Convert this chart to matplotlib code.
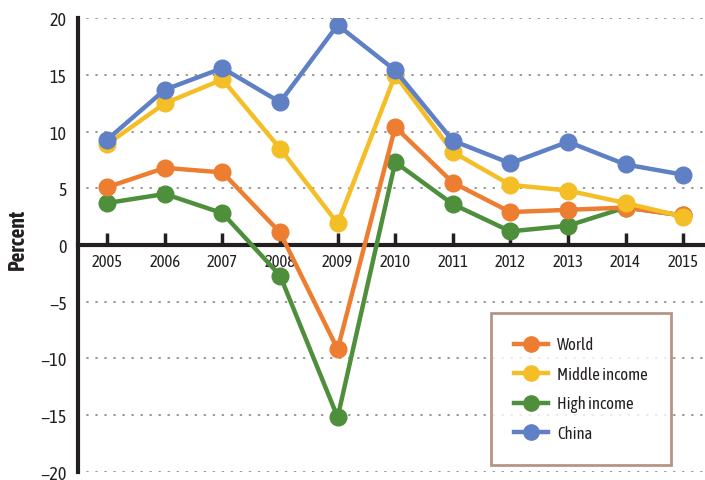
import matplotlib.pyplot as plt
from matplotlib import font_manager
from matplotlib.lines import Line2D

# condensed face close to the original, if installed
names = {f.name for f in font_manager.fontManager.ttflist}
family = next((n for n in ['Asap Condensed', 'Archivo Narrow'] if n in names), 'DejaVu Sans')
plt.rcParams['font.family'] = [family, 'DejaVu Sans']

years = [2005, 2006, 2007, 2008, 2009, 2010, 2011, 2012, 2013, 2014, 2015]

world = [5.1, 6.8, 6.4, 1.1, -9.2, 10.4, 5.5, 2.9, 3.1, 3.3, 2.6]
middle_income = [8.9, 12.5, 14.6, 8.5, 1.9, 15.0, 8.2, 5.3, 4.8, 3.7, 2.5]
high_income = [3.7, 4.5, 2.8, -2.7, -15.2, 7.3, 3.6, 1.2, 1.7, 3.3, 2.6]
china = [9.3, 13.7, 15.6, 12.6, 19.4, 15.4, 9.2, 7.2, 9.1, 7.1, 6.2]

series = [
    ('World', world, '#ED7D31'),
    ('Middle income', middle_income, '#F4BE26'),
    ('High income', high_income, '#4E8F3B'),
    ('China', china, '#5F80C5'),
]

fig = plt.figure(figsize=(7.05, 4.81), dpi=100)
ax = fig.add_axes([0.1106, 0.0173, 0.8894, 0.9427])

for y in [20, 15, 10, 5, -5, -10, -15, -20]:
    ax.axhline(y, color='#8a8a8a', lw=1.3, ls=(0, (0.5, 4.5)), dash_capstyle='round', zorder=0)

# plot order: high income under, china on top
for name, vals, col in [series[2], series[0], series[1], series[3]]:
    ax.plot(years, vals, color=col, lw=3.2, marker='o', ms=12, zorder=3)

ax.set_xlim(2004.49, 2015.38)
ax.set_ylim(-20, 20)

ax.spines['top'].set_visible(False)
ax.spines['right'].set_visible(False)
ax.spines['bottom'].set_position(('data', 0))
ax.spines['bottom'].set_linewidth(3)
ax.spines['left'].set_linewidth(3)
ax.spines['bottom'].set_color('#231f20')
ax.spines['left'].set_color('#231f20')

ax.set_xticks(years)
ax.set_xticklabels([str(y) for y in years], fontsize=12, color='#231f20')
ax.tick_params(axis='x', direction='in', length=9, width=2.5, color='#231f20', pad=6)

ax.set_yticks([20, 15, 10, 5, 0, -5, -10, -15, -20])
ax.set_yticklabels(['20', '15', '10', '5', '0', '\u22125', '\u221210', '\u221215', '\u221220'],
                   fontsize=13, color='#231f20')
ax.tick_params(axis='y', length=0, pad=8)

fig.text(0.026, 0.503, 'Percent', rotation=90, fontsize=15.5, fontweight='bold',
         ha='center', va='center', color='#231f20')

handles = [Line2D([0], [0], color=c, lw=3.2, marker='o', ms=11) for _, _, c in series]
leg = fig.legend(handles, [n for n, _, _ in series], loc='upper left',
                 bbox_to_anchor=(491 / 705, 1 - 314 / 481), frameon=True, fancybox=False,
                 fontsize=12, handlelength=2.0, labelspacing=0.75, borderpad=1.4,
                 handletextpad=0.55, borderaxespad=0)
leg.get_frame().set_edgecolor('#a47a6a')
leg.get_frame().set_linewidth(2)
for t in leg.get_texts():
    t.set_color('#231f20')

fig.savefig('out.png', dpi=100)
